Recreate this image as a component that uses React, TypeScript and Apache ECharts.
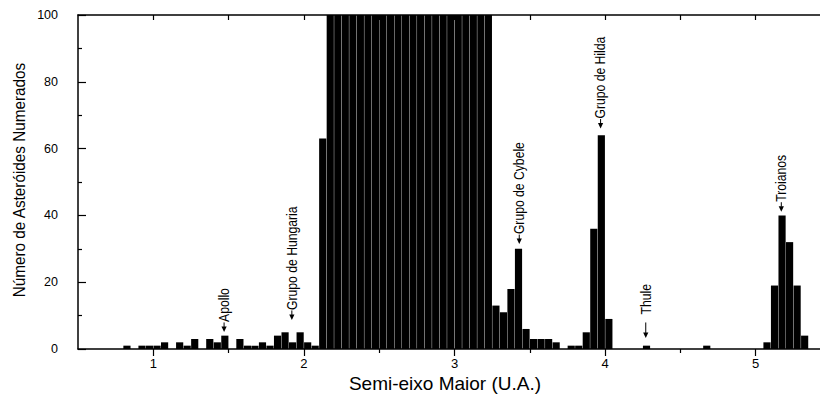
import React, { useEffect, useRef } from "react";
import * as echarts from "echarts";

// Histogram of numbered asteroids by semi-major axis, 0.05 AU bins.
// Only non-empty bins are listed: left edge of each bin (AU) and its count.
const binWidth = 0.05;
const binStarts = [
  0.8, 0.9, 0.95, 1.0, 1.05, 1.15, 1.2, 1.25, 1.35, 1.4, 1.45, 1.55, 1.6, 1.65,
  1.7, 1.75, 1.8, 1.85, 1.9, 1.95, 2.0, 2.05, 2.1,
  2.15, 2.2, 2.25, 2.3, 2.35, 2.4, 2.45, 2.5, 2.55, 2.6, 2.65, 2.7, 2.75, 2.8,
  2.85, 2.9, 2.95, 3.0, 3.05, 3.1, 3.15, 3.2,
  3.25, 3.3, 3.35, 3.4, 3.45, 3.5, 3.55, 3.6, 3.65, 3.75, 3.8, 3.85, 3.9, 3.95,
  4.0, 4.25, 4.65, 5.05, 5.1, 5.15, 5.2, 5.25, 5.3,
];
const counts = [
  1, 1, 1, 1, 2, 2, 1, 3, 3, 2, 4, 3, 1, 1,
  2, 1, 4, 5, 2, 5, 2, 1, 63,
  240, 610, 930, 1060, 1010, 920, 560, 180, 720, 880, 790, 740, 760, 420,
  470, 210, 330, 560, 480, 610, 520, 310,
  13, 11, 18, 30, 6, 3, 3, 3, 2, 1, 1, 5, 36, 64,
  9, 1, 1, 2, 19, 40, 32, 19, 4,
];

// Named groups: arrow tip position (AU, count)
const annotationLabels = [
  "Apollo",
  "Grupo de Hungaria",
  "Grupo de Cybele",
  "Grupo de Hilda",
  "Thule",
  "Troianos",
];
const annotationX = [1.47, 1.92, 3.43, 3.97, 4.27, 5.17];
const annotationY = [5.1, 8.7, 31.4, 66, 3.3, 41.1];

const xMajorTicks = [1, 2, 3, 4, 5];
const xMinorTicks = [1.5, 2.5, 3.5, 4.5];
const xTopTicks = [1, 1.5, 2, 2.5, 3, 3.5, 4, 4.5, 5];

const xTitle = "Semi-eixo Maior (U.A.)";
const yTitle = "Número de Asteróides Numerados";

const textFont = "'Liberation Sans', Arial, sans-serif";

export default function App() {
  const ref = useRef<HTMLDivElement>(null);

  useEffect(() => {
    document.body.style.margin = "0";
    if (!ref.current) return;
    const chart = echarts.init(ref.current, null, { renderer: "svg" });

    const axisLineStyle = { color: "#000", width: 1.5 };
    const tickLineStyle = { color: "#000", width: 1.2 };

    chart.setOption({
      animation: false,
      backgroundColor: "#fff",
      // the frame runs on past the right edge of the visible area
      grid: { left: 78, top: 15, right: 9, bottom: 48 },
      xAxis: [
        {
          type: "value",
          position: "bottom",
          min: 0.5,
          max: 5.5,
          splitLine: { show: false },
          axisLine: { onZero: false, lineStyle: axisLineStyle },
          axisTick: { customValues: xMajorTicks, length: 7, lineStyle: tickLineStyle },
          axisLabel: {
            customValues: xMajorTicks,
            color: "#000",
            fontSize: 13,
            margin: 8,
            fontFamily: textFont,
          },
        },
        {
          type: "value",
          position: "bottom",
          min: 0.5,
          max: 5.5,
          splitLine: { show: false },
          axisLine: { show: false, onZero: false },
          axisTick: { customValues: xMinorTicks, length: 4, lineStyle: tickLineStyle },
          axisLabel: { show: false },
        },
        {
          type: "value",
          position: "top",
          min: 0.5,
          max: 5.5,
          splitLine: { show: false },
          axisLine: { onZero: false, lineStyle: axisLineStyle },
          axisTick: { inside: true, customValues: xTopTicks, length: 5, lineStyle: tickLineStyle },
          axisLabel: { show: false },
        },
      ],
      yAxis: {
        type: "value",
        position: "left",
        min: 0,
        max: 100,
        interval: 20,
        splitLine: { show: false },
        axisLine: { show: true, onZero: false, lineStyle: axisLineStyle },
        axisTick: { show: true, inside: true, length: 8, lineStyle: tickLineStyle },
        minorTick: { show: true, splitNumber: 2, length: 4, lineStyle: tickLineStyle },
        axisLabel: { color: "#000", fontSize: 12.5, margin: 20, fontFamily: textFont },
      },
      graphic: [
        {
          type: "text",
          x: 445,
          y: 383,
          style: {
            text: xTitle,
            fontSize: 19,
            fontFamily: textFont,
            fill: "#000",
            align: "center",
            verticalAlign: "middle",
          },
        },
        {
          type: "text",
          x: 19,
          y: 180,
          rotation: Math.PI / 2,
          scaleX: 0.9,
          style: {
            text: yTitle,
            fontSize: 17,
            fontFamily: textFont,
            fill: "#000",
            align: "center",
            verticalAlign: "middle",
          },
        },
      ],
      series: [
        {
          type: "custom",
          xAxisIndex: 0,
          yAxisIndex: 0,
          data: binStarts.map((x, i) => [x, counts[i]]),
          renderItem: (params: any, api: any) => {
            const x0 = api.value(0);
            const v = api.value(1);
            const p0 = api.coord([x0, 0]);
            const p1 = api.coord([x0 + binWidth, v]);
            const cs = params.coordSys;
            const shape = echarts.graphic.clipRectByRect(
              {
                x: p0[0] + 0.18,
                y: p1[1],
                width: p1[0] - p0[0] - 0.36,
                height: p0[1] - p1[1],
              },
              { x: cs.x, y: cs.y, width: cs.width, height: cs.height }
            );
            return shape && { type: "rect", shape, style: { fill: "#000" } };
          },
        },
        {
          type: "custom",
          xAxisIndex: 0,
          yAxisIndex: 0,
          silent: true,
          data: annotationX.map((x, i) => [x, annotationY[i]]),
          renderItem: (params: any, api: any) => {
            const i = params.dataIndex;
            const label = annotationLabels[i];
            const [px, py] = api.coord([api.value(0), api.value(1)]);
            const detached = label === "Thule";
            const head = 5.5;
            const half = 2.6;
            const stem = detached ? 10 : 4;
            const tail = py - head - stem;
            const textStart = detached ? tail - 8 : tail - 0.5;
            return {
              type: "group",
              children: [
                {
                  type: "polygon",
                  shape: { points: [[px, py], [px - half, py - head], [px + half, py - head]] },
                  style: { fill: "#000" },
                },
                {
                  type: "line",
                  shape: { x1: px, y1: py - head + 0.5, x2: px, y2: tail },
                  style: { stroke: "#000", lineWidth: 1 },
                },
                {
                  type: "text",
                  x: px,
                  y: textStart,
                  rotation: Math.PI / 2,
                  scaleX: 0.87,
                  style: {
                    text: label,
                    fontSize: 14,
                    fontFamily: textFont,
                    fill: "#000",
                    align: "left",
                    verticalAlign: "middle",
                  },
                },
              ],
            };
          },
        },
      ],
    });

    return () => chart.dispose();
  }, []);

  return (
    <div style={{ width: 820, height: 397, overflow: "hidden" }}>
      <div ref={ref} style={{ width: 840, height: 397 }} />
    </div>
  );
}
